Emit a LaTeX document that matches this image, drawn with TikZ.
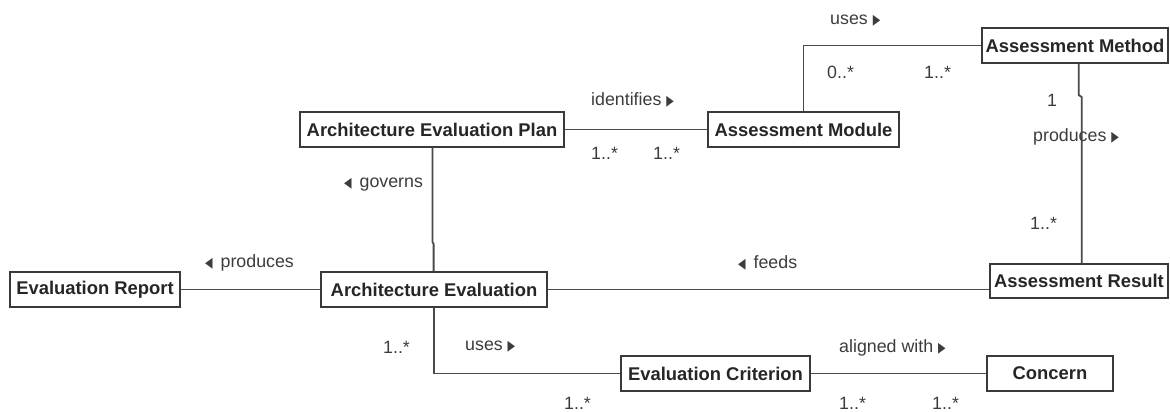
\documentclass[tikz,border=0pt]{standalone}
\usepackage{fontspec}
\setmainfont{Liberation Sans}
\newfontfamily\symfnt{DejaVu Sans}
\usetikzlibrary{calc}
\definecolor{linec}{HTML}{4A4A4A}
\definecolor{boxc}{HTML}{3A3A3A}
\definecolor{txtc}{HTML}{3C3C3C}
\newcommand{\rt}{\ {\symfnt\scalebox{0.55}[0.8]{▶}}}
\newcommand{\lt}{{\symfnt\scalebox{0.55}[0.8]{◀}}\ \,}
\begin{document}
\begin{tikzpicture}[x=1pt,y=-1pt,
  cls/.style={draw=boxc,line width=1.8pt,fill=white,inner sep=0pt,minimum height=35pt,
    font=\fontsize{18.4}{20}\selectfont\bfseries,text=black!85},
  lbl/.style={anchor=west,inner sep=0pt,font=\fontsize{17.8}{20}\selectfont,text=txtc},
  conn/.style={draw=linec,line width=1.8pt}]
\useasboundingbox (0,0) rectangle (1170,412);
% classes
\node[cls,minimum width=264pt] (aep) at (432,129.5) {Architecture Evaluation Plan};
\node[cls,minimum width=191pt] (am) at (803.5,129.5) {Assessment Module};
\node[cls,minimum width=186pt] (meth) at (1075,45.5) {Assessment Method};
\node[cls,minimum width=170pt] (er) at (95,289.5) {Evaluation Report};
\node[cls,minimum width=226pt] (ae) at (434,289.5) {Architecture Evaluation};
\node[cls,minimum width=178pt,minimum height=34pt] (ar) at (1079,281) {Assessment Result};
\node[cls,minimum width=189pt] (ec) at (715.5,373.5) {Evaluation Criterion};
\node[cls,minimum width=126pt] (con) at (1050,373.5) {Concern};
% jog coordinates
\coordinate (j1) at (1078.7,95);
\coordinate (j2) at (1081.7,97);
\coordinate (j3) at (432.5,242);
\coordinate (j4) at (433.6,244);
% connectors
\draw[conn] (aep.east) -- (am.west);
\draw[conn] (am.north) |- (meth.west);
\draw[conn] (meth.south -| j1) -- (j1) -- (j2) -- (j2 |- ar.north);
\draw[conn] (aep.south -| j3) -- (j3) -- (j4) -- (j4 |- ae.north);
\draw[conn] (er.east) -- (ae.west);
\draw[conn] (ae.east) -- (ae.east -| ar.west);
\draw[conn] (ae.south) |- (ec.west);
\draw[conn] (ec.east) -- (con.west);
% labels
\node[lbl] (l1) at (591,100) {identifies\rt};
\node[lbl] (l2) at (591,153) {1..*};
\node[lbl] (l3) at (653,153) {1..*};
\node[lbl] (l4) at (830,21) {uses\rt};
\node[lbl] (l5) at (827,72) {0..*};
\node[lbl] (l6) at (924,72) {1..*};
\node[lbl] (l7) at (1047,100) {1};
\node[lbl] (l8) at (1033,137) {produces\rt};
\node[lbl] (l9) at (1030,223) {1..*};
\node[lbl] (l10) at (344,185) {\lt governs};
\node[lbl] (l11) at (205,263) {\lt produces};
\node[lbl] (l12) at (383,347) {1..*};
\node[lbl] (l13) at (465,347) {uses\rt};
\node[lbl] (l14) at (564,403) {1..*};
\node[lbl] (l15) at (738,263) {\lt feeds};
\node[lbl] (l16) at (839,348) {aligned with\rt};
\node[lbl] (l17) at (839,403) {1..*};
\node[lbl] (l18) at (932,403) {1..*};
\end{tikzpicture}
\end{document}
